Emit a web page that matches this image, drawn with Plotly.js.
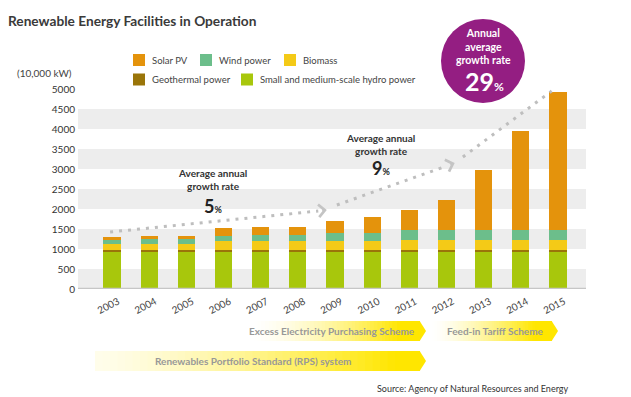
<!DOCTYPE html>
<html><head><meta charset="utf-8">
<script src="https://cdn.plot.ly/plotly-3.0.1.min.js"></script>
<style>html,body{margin:0;padding:0;background:#fff}#chart{width:631px;height:397px}</style>
</head><body><div id="chart"></div>
<script>
// ---- data (10,000 kW) ----
const years = ['2003','2004','2005','2006','2007','2008','2009','2010','2011','2012','2013','2014','2015'];
const hydro = [915,915,915,915,915,915,915,915,915,915,915,915,915];
const geothermal = [67,67,67,67,67,67,67,67,67,67,67,67,67];
const biomass = [150,150,150,208,208,208,208,208,250,250,250,250,250];
const wind = [83,125,125,145,150,150,210,210,250,250,250,250,250];
const solar = [75,75,75,190,200,200,290,390,500,750,1483,2475,3443];
const seriesNames = ['Small and medium-scale hydro power','Geothermal power','Biomass','Wind power','Solar PV'];
const seriesColors = ['#A8C70C','#9A7509','#F4CA17','#6CBE8B','#E4930C'];
const yTicks = [0,500,1000,1500,2000,2500,3000,3500,4000,4500,5000];
const growthRates = ['5','9','29'];

// ---- geometry helpers (layout only) ----
const L=78,R=45,T=89,B=108,WD=631,HT=397;
const PW=WD-L-R, PH=HT-T-B;
const fx = p => (p-L)/PW;
const fy = p => (T+PH-p)/PH;
const FONT = 'Lato, "Noto Sans", sans-serif';

const seriesData = [hydro, geothermal, biomass, wind, solar];
const traces = seriesData.map((vals,i)=>({
  type:'bar', x:years, y:vals, name:seriesNames[i],
  marker:{color:seriesColors[i], line:{width:0}},
  width:0.46, hoverinfo:'x+y+name'
}));

const shapes = [];
// alternating grey bands
for (let k=0;k<yTicks.length-1;k+=2){
  shapes.push({type:'rect', xref:'paper', yref:'y', x0:0, x1:1, y0:yTicks[k], y1:yTicks[k+1],
    fillcolor:'#EDEDED', line:{width:0}, layer:'below'});
}
// baseline
shapes.push({type:'line', xref:'paper', yref:'y', x0:0, x1:1, y0:0, y1:0, line:{color:'#C6C6C6', width:2.5}, layer:'above'});

// dotted trend lines
const dotted = [[-0.05,1425,5.55,1950],[6.05,2100,9.0,3075],[9.44,3300,11.83,4950]];
dotted.forEach(d=>shapes.push({type:'line', xref:'x', yref:'y', x0:d[0], y0:d[1], x1:d[2], y1:d[3],
  line:{color:'#BEBEBE', width:3, dash:'3px,6px'}}));

// banners with gradient
function mix(t){
  const a=[255,255,255], b=[255,230,0];
  return 'rgb('+a.map((v,i)=>Math.round(v+(b[i]-v)*t)).join(',')+')';
}
function banner(x0,xf,x1,tip,yt,yb,t0,pw){
  const N=40;
  for(let i=0;i<N;i++){
    const xa=x0+(xf-x0)*i/N, xb=x0+(xf-x0)*(i+1)/N+0.6;
    const t=t0+(1-t0)*Math.pow((i+0.5)/N,pw);
    shapes.push({type:'rect', xref:'paper', yref:'paper', x0:fx(xa), x1:fx(xb), y0:fy(yb), y1:fy(yt), fillcolor:mix(t), line:{width:0}});
  }
  shapes.push({type:'rect', xref:'paper', yref:'paper', x0:fx(xf), x1:fx(x1), y0:fy(yb), y1:fy(yt), fillcolor:mix(1), line:{width:0}});
  const ym=(yt+yb)/2;
  shapes.push({type:'path', xref:'paper', yref:'paper',
    path:'M'+fx(x1-0.3)+','+fy(yt)+' L'+fx(tip)+','+fy(ym)+' L'+fx(x1-0.3)+','+fy(yb)+' Z',
    fillcolor:mix(1), line:{width:0}});
}
banner(250,400,420,426,321,341,0.0,1.6);
banner(432,535,552,558,321,341,0.0,1.4);
banner(95,395,420,426,351,371,0.08,1.4);

// circle
shapes.push({type:'circle', xref:'paper', yref:'paper', x0:fx(441), x1:fx(525), y0:fy(103), y1:fy(19), fillcolor:'#941E82', line:{width:0}});

// legend squares (custom)
const legendItems = [[4,133,60],[3,200,60],[2,284,60],[1,133,79.5],[0,241,79.5]];
legendItems.forEach(it=>{
  shapes.push({type:'rect', xref:'paper', yref:'paper', x0:fx(it[1]), x1:fx(it[1]+12), y0:fy(it[2]+6), y1:fy(it[2]-6), fillcolor:seriesColors[it[0]], line:{width:0}});
});

const annotations = [];
function txt(text,x,y,opts){
  annotations.push(Object.assign({text:text, xref:'paper', yref:'paper', x:fx(x), y:fy(y), showarrow:false,
    xanchor:'center', yanchor:'middle', font:{family:FONT, size:10, color:'#333'}}, opts||{}));
}
legendItems.forEach(it=>txt(seriesNames[it[0]], it[1]+17, it[2], {xanchor:'left', font:{family:FONT,size:9.5,color:'#444'}}));

txt('Renewable Energy Facilities in Operation', 6, 20.5, {xanchor:'left', font:{family:FONT,size:13.7,color:'#3A3A3A',weight:'bold'}});
txt('(10,000 kW)', 74, 72.5, {xanchor:'right', font:{family:FONT,size:10,color:'#444'}});

txt('Average annual<br>growth rate', 212, 179, {font:{family:FONT,size:10,color:'#333',weight:'bold'}});
txt(growthRates[0]+'<span style="font-size:9px">%</span>', 213, 205.5, {font:{family:FONT,size:18,color:'#222',weight:'bold'}});
txt('Average annual<br>growth rate', 380, 144.5, {font:{family:FONT,size:10,color:'#333',weight:'bold'}});
txt(growthRates[1]+'<span style="font-size:9px">%</span>', 381, 168, {font:{family:FONT,size:18,color:'#222',weight:'bold'}});

txt('Annual<br>average<br>growth rate', 483, 46.5, {font:{family:FONT,size:10.5,color:'#FFFFFF',weight:'bold'}});
txt(growthRates[2]+'<span style="font-size:12px">%</span>', 484, 80.5, {font:{family:FONT,size:25,color:'#FFFFFF',weight:'bold'}});

txt('Excess Electricity Purchasing Scheme', 417, 331, {xanchor:'right', font:{family:FONT,size:10,color:'#989898',weight:'bold'}});
txt('Feed-in Tariff Scheme', 445, 331, {xanchor:'left', font:{family:FONT,size:10,color:'#989898',weight:'bold'}});
txt('Renewables Portfolio Standard (RPS) system', 153, 361, {xanchor:'left', font:{family:FONT,size:10,color:'#989898',weight:'bold'}});
txt('Source: Agency of Natural Resources and Energy', 570, 388, {xanchor:'right', font:{family:FONT,size:9,color:'#333'}});

// arrow heads
const heads = [[5.78,1975,-6,0.6],[9.22,3150,-5.7,2.0],[12.04,5100,-4.8,3.6]];
heads.forEach(h=>annotations.push({x:h[0], y:h[1], xref:'x', yref:'y', text:'', showarrow:true,
  ax:h[2], ay:h[3], arrowhead:4, arrowsize:1.1, arrowwidth:2.2, arrowcolor:'#C4C4C4', standoff:0}));

const layout = {
  width:WD, height:HT, margin:{l:L,r:R,t:T,b:B,pad:0},
  paper_bgcolor:'#fff', plot_bgcolor:'rgba(0,0,0,0)',
  barmode:'stack', showlegend:false, bargap:0.5,
  xaxis:{type:'category', range:[-0.914,12.753], showgrid:false, zeroline:false, showline:false,
    ticks:'', tickangle:-28, ticklabelshift:6, ticklabelstandoff:4,
    tickfont:{family:FONT,size:10,color:'#444'}, fixedrange:true},
  yaxis:{range:[0,5000], tickvals:yTicks, ticktext:yTicks.map(String), showgrid:false, zeroline:false, showline:false,
    ticks:'', tickfont:{family:FONT,size:10,color:'#333'}, ticklabelstandoff:2, ticklabelshift:1.5, fixedrange:true},
  shapes:shapes, annotations:annotations,
  font:{family:FONT}
};
Plotly.newPlot('chart', traces, layout, {displayModeBar:false, staticPlot:true});
</script></body></html>
